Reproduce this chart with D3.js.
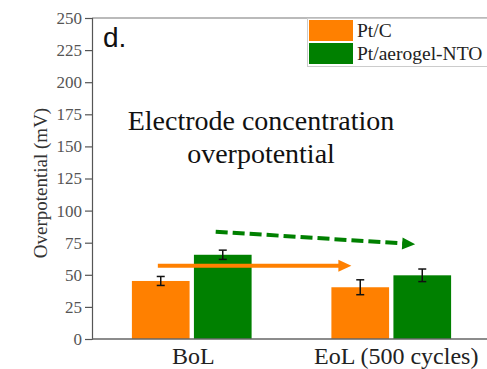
<!DOCTYPE html>
<html><head><meta charset="utf-8">
<script src="https://cdn.jsdelivr.net/npm/d3@7"></script>
<style>body{margin:0;background:#fff}svg{display:block}</style>
</head><body>
<script>
const categories = ["BoL", "EoL (500 cycles)"];
const seriesNames = ["Pt/C", "Pt/aerogel-NTO"];
const ptcValues = [45.2, 40.3];
const ptcErrors = [3.5, 5.8];
const aerogelValues = [65.6, 49.6];
const aerogelErrors = [3.6, 4.9];
const yTicks = [0, 25, 50, 75, 100, 125, 150, 175, 200, 225, 250];
const colors = ["#ff8000", "#008000"];
// arrows: [category, fraction within band, value]
const orangeArrow = [["BoL", 0.33, 57], ["EoL (500 cycles)", 0.30, 57]];
const greenArrow = [["BoL", 0.62, 83.6], ["EoL (500 cycles)", 0.62, 73.8]];

const W = 487, H = 369;
const pLeft = 92, pTop = 18, pBottom = 339, pRight = 491;
const serif = "Liberation Serif, Times New Roman, serif";

const svg = d3.select("body").append("svg").attr("width", W).attr("height", H);

const x = d3.scaleBand().domain(categories).range([pLeft, pRight]).padding(0);
const xs = d3.scaleBand().domain(seriesNames).range([0.2 * x.bandwidth(), 0.8 * x.bandwidth()]).paddingInner(0.07);
const y = d3.scaleLinear().domain([0, 250]).range([pBottom, pTop]);

// frame
svg.append("line").attr("x1", pLeft).attr("x2", pRight).attr("y1", pTop).attr("y2", pTop)
  .attr("stroke", "#777").attr("stroke-width", 1.2);

// y axis
const yAxis = svg.append("g").attr("transform", `translate(${pLeft},0)`)
  .call(d3.axisLeft(y).tickValues(yTicks).tickSize(7).tickPadding(3).tickFormat(d3.format("d")));
yAxis.select(".domain").attr("stroke", "#555").attr("stroke-width", 1.2);
yAxis.selectAll(".tick line").attr("stroke", "#555").attr("stroke-width", 1.2);
yAxis.selectAll(".tick text").attr("font-family", serif)
  .attr("font-size", 17).attr("fill", "#555");

svg.append("text").attr("transform", `translate(40,183) rotate(-90)`)
  .attr("text-anchor", "middle").attr("dy", "0.35em").attr("font-family", serif)
  .attr("font-size", 19).attr("fill", "#333").text("Overpotential (mV)");

// bars
const rows = categories.map((c, i) => [
  {cat: c, s: seriesNames[0], v: ptcValues[i], e: ptcErrors[i], col: colors[0]},
  {cat: c, s: seriesNames[1], v: aerogelValues[i], e: aerogelErrors[i], col: colors[1]}
]).flat();

svg.selectAll("rect.bar").data(rows).enter().append("rect").attr("class", "bar")
  .attr("x", d => x(d.cat) + xs(d.s)).attr("width", xs.bandwidth())
  .attr("y", d => y(d.v)).attr("height", d => y(0) - y(d.v))
  .attr("fill", d => d.col);

// error bars
const eb = svg.selectAll("g.eb").data(rows).enter().append("g").attr("class", "eb");
const cx = d => x(d.cat) + xs(d.s) + xs.bandwidth() / 2;
eb.append("line").attr("x1", cx).attr("x2", cx).attr("y1", d => y(d.v - d.e)).attr("y2", d => y(d.v + d.e))
  .attr("stroke", "#111").attr("stroke-width", 1.5);
eb.append("line").attr("x1", d => cx(d) - 4).attr("x2", d => cx(d) + 4).attr("y1", d => y(d.v - d.e)).attr("y2", d => y(d.v - d.e))
  .attr("stroke", "#111").attr("stroke-width", 1.5);
eb.append("line").attr("x1", d => cx(d) - 4).attr("x2", d => cx(d) + 4).attr("y1", d => y(d.v + d.e)).attr("y2", d => y(d.v + d.e))
  .attr("stroke", "#111").attr("stroke-width", 1.5);

// x axis
svg.append("line").attr("x1", pLeft).attr("x2", pRight).attr("y1", pBottom).attr("y2", pBottom)
  .attr("stroke", "#666").attr("stroke-width", 1.5);
svg.selectAll("text.cat").data(categories).enter().append("text").attr("class", "cat")
  .attr("x", (d, i) => x(d) + x.bandwidth() / 2 + (i ? 5 : 1.5)).attr("y", 363.5)
  .attr("text-anchor", "middle").attr("font-family", serif)
  .attr("font-size", 24).attr("fill", "#222").text(d => d);

// arrows
function arrow(pts, color, dash) {
  const p = pts.map(d => [x(d[0]) + d[1] * x.bandwidth(), y(d[2])]);
  const [x0, y0] = p[0], [x1, y1] = p[1];
  const ang = Math.atan2(y1 - y0, x1 - x0);
  const L = 13, hw = 6;
  const bx = x1 - L * Math.cos(ang), by = y1 - L * Math.sin(ang);
  svg.append("line").attr("x1", x0).attr("y1", y0).attr("x2", bx + 1 * Math.cos(ang)).attr("y2", by + 1 * Math.sin(ang))
    .attr("stroke", color).attr("stroke-width", 4).attr("stroke-dasharray", dash || null);
  const pts2 = [[x1, y1], [bx - hw * Math.sin(ang), by + hw * Math.cos(ang)], [bx + hw * Math.sin(ang), by - hw * Math.cos(ang)]];
  svg.append("polygon").attr("points", pts2.map(q => q.join(",")).join(" ")).attr("fill", color);
}
arrow(orangeArrow, colors[0]);
arrow(greenArrow, colors[1], "12,5");

// annotations
svg.append("text").attr("x", 103).attr("y", 47).attr("font-family", "Liberation Sans, Arial, sans-serif")
  .attr("font-size", 28).attr("fill", "#111").text("d.");
svg.append("text").attr("x", 261).attr("y", 129.5).attr("text-anchor", "middle")
  .attr("font-family", serif).attr("font-size", 28).attr("fill", "#111").text("Electrode concentration");
svg.append("text").attr("x", 261).attr("y", 163).attr("text-anchor", "middle")
  .attr("font-family", serif).attr("font-size", 28).attr("fill", "#111").text("overpotential");

// legend
const lg = svg.append("g");
lg.append("rect").attr("x", 307.5).attr("y", 18.5).attr("width", 200).attr("height", 48)
  .attr("fill", "#fff").attr("stroke", "#ccc");
seriesNames.forEach((s, i) => {
  lg.append("rect").attr("x", 309).attr("y", 20 + i * 23).attr("width", 44).attr("height", 21).attr("fill", colors[i]);
  lg.append("text").attr("x", 357).attr("y", 37 + i * 23).attr("font-family", serif)
    .attr("font-size", 19.5).attr("fill", "#222").text(s);
});
</script>
</body></html>
